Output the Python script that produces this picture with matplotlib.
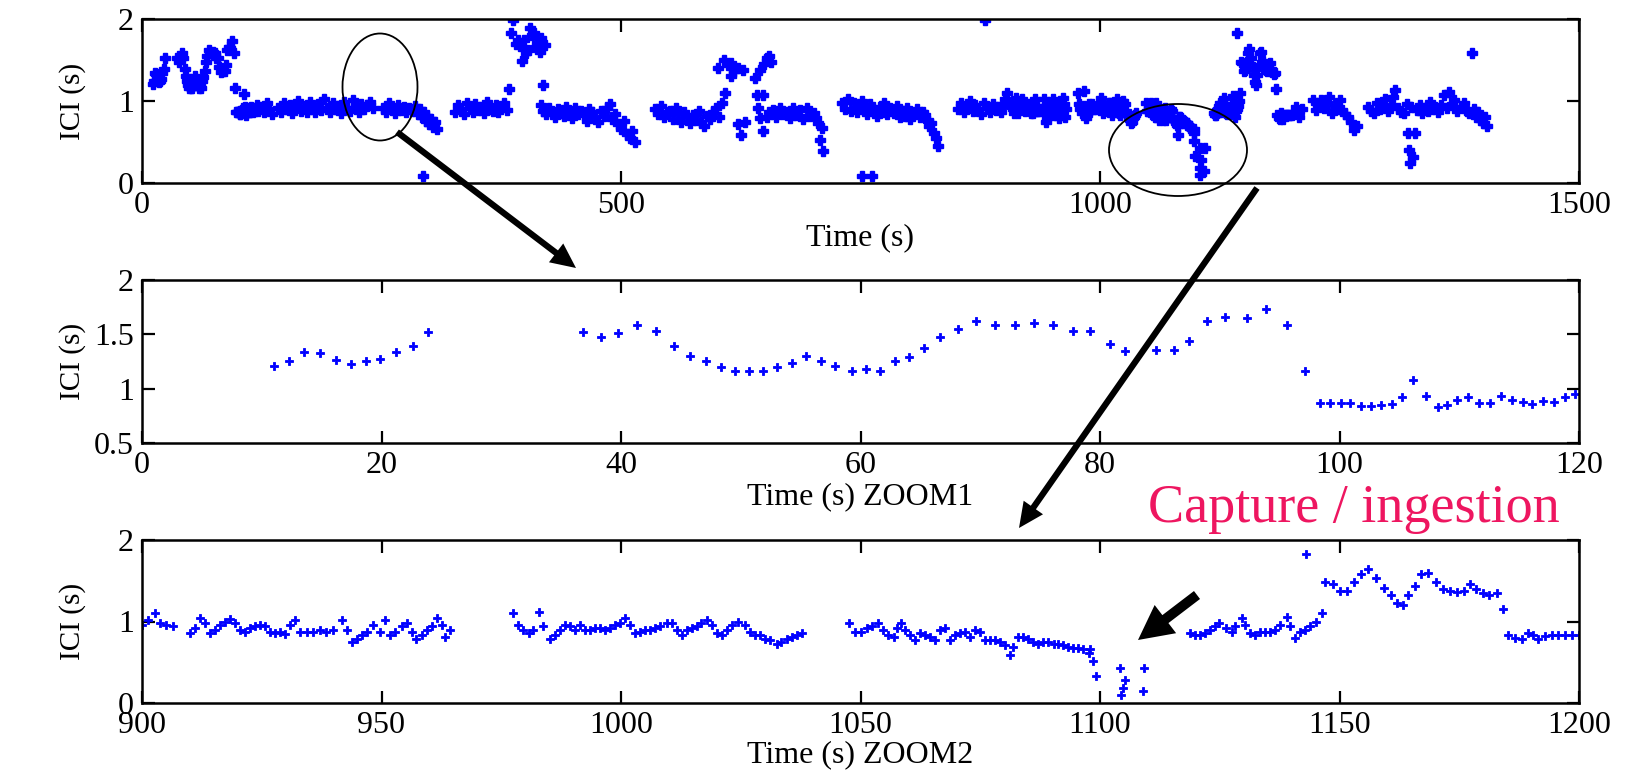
# -*- coding: utf-8 -*-
'''
Inter-click intervals (ICI) over time, with two zoomed windows.
'''

import numpy as np
import matplotlib
matplotlib.use('Agg')
import matplotlib.pyplot as plt
from matplotlib.patches import Ellipse, FancyArrowPatch

plt.rcParams['font.family'] = ['Liberation Serif', 'DejaVu Serif']

# ZOOM1 window (time s, ICI s)
zoom1_pts = np.array([
    [11.0, 1.21], [12.3, 1.25], [13.5, 1.34], [14.9, 1.33], [16.2, 1.26],
    [17.45, 1.23], [18.7, 1.25], [19.9, 1.27], [21.2, 1.34], [22.6, 1.39],
    [23.9, 1.52],
    [36.8, 1.52], [38.3, 1.48], [39.75, 1.51], [41.3, 1.59], [42.9, 1.53],
    [44.4, 1.39], [45.75, 1.30], [47.1, 1.25], [48.35, 1.20], [49.5, 1.16],
    [50.65, 1.16], [51.85, 1.16], [53.0, 1.20], [54.25, 1.24], [55.45, 1.30],
    [56.7, 1.25], [57.9, 1.21], [59.25, 1.16], [60.45, 1.18], [61.6, 1.16],
    [62.85, 1.25], [64.05, 1.29], [65.3, 1.37], [66.6, 1.48], [68.15, 1.55],
    [69.65, 1.62], [71.25, 1.59], [72.9, 1.59], [74.5, 1.60], [76.1, 1.59],
    [77.75, 1.53], [79.15, 1.53], [80.8, 1.41], [82.05, 1.35], [84.7, 1.36],
    [86.15, 1.36], [87.45, 1.44], [88.9, 1.62], [90.4, 1.66], [92.25, 1.65],
    [93.85, 1.73], [95.6, 1.59], [97.1, 1.16], [98.4, 0.87], [99.2, 0.87],
    [100.1, 0.87], [100.9, 0.87], [101.8, 0.84], [102.6, 0.84], [103.5, 0.85],
    [104.4, 0.86], [105.2, 0.92], [106.1, 1.08], [107.2, 0.93], [108.2, 0.83],
    [109.0, 0.85], [109.85, 0.90], [110.7, 0.92], [111.65, 0.87],
    [112.55, 0.87], [113.45, 0.93], [114.4, 0.90], [115.3, 0.88],
    [116.1, 0.86], [117.0, 0.89], [117.9, 0.88], [118.8, 0.92], [119.7, 0.95],
])

# ZOOM2 window (time s, ICI s)
zoom2_pts = np.array([
    [900.1, 0.96], [901.3, 1.02], [902.7, 1.10], [903.8, 0.98], [905.1, 0.96],
    [906.5, 0.945], [910.0, 0.855], [911.1, 0.92], [912.1, 1.04],
    [913.2, 0.98], [914.2, 0.855], [915.2, 0.90], [916.3, 0.96], [917.3, 1.00],
    [918.4, 1.03], [919.4, 0.98], [920.5, 0.90], [921.5, 0.875], [922.5, 0.92],
    [923.6, 0.94], [924.6, 0.96], [925.7, 0.94], [926.7, 0.875],
    [927.8, 0.855], [928.8, 0.875], [929.9, 0.85], [930.9, 0.96],
    [931.9, 1.02], [933.0, 0.875], [934.4, 0.875], [935.8, 0.875],
    [937.2, 0.90], [938.5, 0.875], [939.9, 0.90], [941.7, 1.02], [942.7, 0.90],
    [943.8, 0.75], [944.8, 0.79], [945.9, 0.835], [946.9, 0.875],
    [948.3, 0.96], [949.7, 0.875], [950.7, 1.02], [951.8, 0.835],
    [952.8, 0.875], [954.2, 0.94], [955.3, 0.98], [956.3, 0.875],
    [957.3, 0.79], [958.4, 0.835], [959.4, 0.90], [960.5, 0.94],
    [961.5, 1.04], [962.6, 0.96], [963.3, 0.81], [964.3, 0.90],
    [977.5, 1.10], [978.6, 0.96], [979.6, 0.90], [980.7, 0.855],
    [981.7, 0.90], [982.9, 1.12], [983.8, 0.94], [985.2, 0.79],
    [986.2, 0.835], [987.3, 0.90], [988.3, 0.96], [989.4, 0.94],
    [990.4, 0.90], [991.4, 0.96], [992.5, 0.90], [993.5, 0.90],
    [994.6, 0.92], [995.6, 0.92], [996.7, 0.90], [997.7, 0.92],
    [998.7, 0.96], [999.8, 0.98], [1000.8, 1.04], [1001.9, 0.96],
    [1002.9, 0.855], [1004.0, 0.875], [1005.0, 0.90], [1006.1, 0.90],
    [1007.1, 0.92], [1008.1, 0.94], [1009.5, 0.98], [1010.6, 0.98],
    [1011.6, 0.90], [1012.7, 0.835], [1013.7, 0.90], [1014.8, 0.92],
    [1015.8, 0.94], [1016.8, 0.98], [1017.9, 1.02], [1018.9, 0.96],
    [1020.0, 0.855], [1021.0, 0.835], [1022.1, 0.90], [1023.1, 0.96],
    [1024.5, 1.00], [1025.9, 0.96], [1026.9, 0.875], [1028.0, 0.835],
    [1029.0, 0.835], [1030.1, 0.79], [1031.1, 0.77], [1032.5, 0.73],
    [1033.5, 0.75], [1034.6, 0.79], [1035.6, 0.81], [1036.7, 0.835],
    [1037.7, 0.855],
    [1047.5, 0.98], [1048.9, 0.875], [1050.2, 0.875], [1051.3, 0.92],
    [1052.3, 0.94], [1053.7, 0.98], [1054.8, 0.90], [1055.8, 0.835],
    [1056.9, 0.81], [1057.6, 0.92], [1058.4, 0.98], [1059.3, 0.90],
    [1060.3, 0.835], [1061.4, 0.77], [1062.4, 0.855], [1063.5, 0.835],
    [1064.5, 0.81], [1065.6, 0.77], [1066.6, 0.90], [1067.6, 0.92],
    [1068.7, 0.77], [1069.7, 0.835], [1070.8, 0.855], [1071.8, 0.875],
    [1072.9, 0.81], [1073.9, 0.90], [1074.9, 0.875], [1076.0, 0.77],
    [1077.0, 0.77], [1078.1, 0.77], [1079.1, 0.75], [1080.2, 0.71],
    [1081.2, 0.59], [1081.9, 0.69], [1082.9, 0.81], [1084.0, 0.81],
    [1085.0, 0.79], [1086.1, 0.75], [1087.1, 0.73], [1088.2, 0.75],
    [1089.2, 0.75], [1090.3, 0.73], [1091.3, 0.73], [1092.3, 0.71],
    [1093.4, 0.69], [1094.4, 0.67], [1095.5, 0.67], [1096.5, 0.66],
    [1097.6, 0.61], [1097.9, 0.66], [1098.6, 0.51], [1099.2, 0.33],
    [1104.2, 0.43], [1105.2, 0.28], [1104.9, 0.18], [1104.3, 0.10],
    [1109.1, 0.43], [1108.9, 0.15],
    [1118.8, 0.855], [1119.8, 0.835], [1120.9, 0.835], [1121.9, 0.855],
    [1123.0, 0.90], [1124.0, 0.94], [1124.9, 0.98], [1126.4, 0.92],
    [1127.5, 0.87], [1128.2, 0.94], [1129.6, 1.04], [1130.3, 0.96],
    [1131.3, 0.855], [1132.4, 0.84], [1133.4, 0.87], [1134.4, 0.875],
    [1135.5, 0.875], [1136.5, 0.90], [1137.6, 0.96], [1139.0, 1.06],
    [1139.7, 0.94], [1140.7, 0.80], [1141.8, 0.875], [1142.8, 0.90],
    [1143.1, 1.83], [1143.8, 0.94], [1145.1, 1.00], [1146.3, 1.10],
    [1147.0, 1.48], [1148.7, 1.46], [1150.1, 1.37], [1151.5, 1.38],
    [1153.1, 1.48], [1154.5, 1.58], [1155.9, 1.64], [1157.6, 1.53],
    [1159.2, 1.415], [1160.7, 1.32], [1161.9, 1.23], [1163.2, 1.20],
    [1164.4, 1.32], [1165.8, 1.44], [1167.0, 1.58], [1168.5, 1.60],
    [1170.1, 1.49], [1171.7, 1.395], [1173.1, 1.375], [1174.5, 1.365],
    [1175.9, 1.375], [1177.2, 1.46], [1178.5, 1.395], [1179.9, 1.355],
    [1181.3, 1.325], [1182.8, 1.345], [1184.1, 1.15], [1185.2, 0.835],
    [1186.6, 0.795], [1188.0, 0.785], [1189.4, 0.855], [1190.5, 0.835],
    [1191.5, 0.785], [1192.9, 0.825], [1194.3, 0.835], [1195.7, 0.835],
    [1197.1, 0.835], [1198.5, 0.835], [1199.9, 0.835],
])

# remaining parts of the full record (time s, ICI s)
overview_pts = np.array([
    [121, 0.88], [124, 0.93], [127, 0.86], [130, 0.97], [133, 0.90],
    [136, 0.84], [142, 0.92], [145, 0.86], [148, 0.98], [151, 0.90],
    [154, 0.95], [157, 0.85], [160, 0.93], [163, 1.00], [166, 0.88],
    [169, 0.94], [172, 0.86], [175, 0.99], [178, 0.91], [181, 0.87],
    [184, 0.96], [187, 0.89], [190, 1.03], [193, 0.92], [196, 0.86],
    [199, 0.97], [202, 0.90], [205, 0.94], [208, 0.85], [211, 0.99],
    [214, 0.92], [217, 0.88], [220, 1.01], [223, 0.93], [226, 0.87],
    [229, 0.96], [232, 0.90], [235, 0.95], [238, 0.99], [241, 0.91],
    [252, 0.92], [255, 0.87], [258, 0.97], [261, 0.90], [264, 0.85],
    [267, 0.95], [270, 0.89], [273, 0.93], [276, 0.86], [279, 0.91],
    [282, 0.88], [285, 0.94], [288, 0.84], [290, 0.90], [292, 0.80],
    [293, 0.08], [294, 0.86], [296, 0.76], [298, 0.82], [300, 0.72],
    [302, 0.78], [304, 0.68], [306, 0.74], [308, 0.66],
    [327, 0.86], [330, 0.95], [333, 0.90], [336, 0.84], [339, 0.98],
    [342, 0.91], [345, 0.87], [348, 0.96], [351, 0.89], [354, 0.93],
    [357, 0.85], [360, 0.99], [363, 0.90], [366, 0.88], [369, 0.95],
    [372, 0.86], [375, 0.92], [378, 0.97], [381, 0.89], [383, 1.15],
    [385, 1.83], [387, 1.99], [390, 1.70], [392, 1.75], [395, 1.67],
    [397, 1.49], [399, 1.75], [401, 1.58], [403, 1.62], [405, 1.89],
    [407, 1.80], [409, 1.83], [411, 1.66], [412, 1.71], [415, 1.60],
    [417, 1.77], [419, 1.20], [421, 1.68],
    [416, 0.95], [419, 0.88], [422, 0.84], [425, 0.92], [428, 0.86],
    [431, 0.80], [434, 0.90], [437, 0.85], [440, 0.82], [443, 0.93],
    [446, 0.87], [449, 0.79], [452, 0.91], [455, 0.84], [458, 0.88],
    [461, 0.83], [464, 0.76], [467, 0.90], [470, 0.86], [473, 0.80],
    [476, 0.74], [479, 0.88], [482, 0.82], [485, 0.92], [488, 0.96],
    [491, 0.78], [494, 0.84], [497, 0.72], [500, 0.66], [503, 0.76],
    [506, 0.60], [509, 0.55], [512, 0.64], [515, 0.50],
    [536, 0.90], [539, 0.84], [542, 0.94], [545, 0.80], [548, 0.86],
    [551, 0.88], [554, 0.78], [557, 0.92], [560, 0.84], [563, 0.75],
    [566, 0.86], [569, 0.80], [572, 0.73], [575, 0.83], [578, 0.77],
    [581, 0.88], [584, 0.74], [587, 0.70], [590, 0.82], [593, 0.78],
    [596, 0.86], [599, 0.92], [602, 0.80], [605, 0.97], [609, 1.10],
    [601, 1.40], [608, 1.50], [612, 1.44], [615, 1.46], [615, 1.30],
    [618, 1.36], [622, 1.40], [627, 1.38], [622, 0.72], [625, 0.58],
    [629, 0.74], [640, 1.28], [645, 1.38], [649, 1.45], [652, 1.52],
    [654, 1.55], [657, 1.47],
    [642, 1.07], [643, 0.91], [645, 0.79], [648, 0.63], [648, 1.07],
    [652, 0.81], [655, 0.86], [659, 0.89], [662, 0.80], [666, 0.91],
    [669, 0.84], [673, 0.86], [676, 0.79], [680, 0.92], [683, 0.83],
    [687, 0.89], [690, 0.78], [694, 0.91], [697, 0.82], [701, 0.85],
    [704, 0.79], [706, 0.73], [708, 0.53], [710, 0.67], [711, 0.39],
    [752, 0.08], [762, 0.08],
    [731, 0.97], [734, 0.90], [737, 1.02], [740, 0.88], [743, 0.97],
    [746, 0.86], [749, 0.94], [752, 1.00], [754, 0.93], [757, 0.84],
    [760, 0.96], [764, 0.89], [767, 0.82], [770, 0.93], [773, 0.87],
    [775, 0.97], [778, 0.84], [781, 0.91], [785, 0.85], [788, 0.94],
    [791, 0.80], [794, 0.88], [796, 0.82], [799, 0.92], [802, 0.78],
    [806, 0.85], [809, 0.90], [812, 0.80], [815, 0.87], [817, 0.83],
    [820, 0.76], [822, 0.70], [824, 0.73], [827, 0.61], [829, 0.55],
    [831, 0.45],
    [852, 0.90], [855, 0.97], [858, 0.86], [861, 0.93], [864, 1.00],
    [867, 0.88], [870, 0.95], [873, 0.90], [876, 0.84], [879, 0.97],
    [880, 1.99], [882, 0.91], [885, 0.87], [888, 0.96], [891, 0.89],
    [894, 0.93], [897, 0.86],
    [1202, 0.85], [1205, 0.93], [1208, 0.80], [1211, 0.90], [1222, 1.01],
    [1225, 0.89], [1228, 0.95], [1231, 1.01], [1234, 0.91], [1237, 0.97],
    [1239, 1.05], [1242, 0.85], [1245, 0.95], [1248, 0.90], [1250, 1.01],
    [1253, 0.89], [1256, 0.84], [1259, 0.81], [1262, 0.75], [1265, 0.65],
    [1268, 0.70], [1280, 0.93], [1283, 0.88], [1286, 0.85], [1289, 0.97],
    [1292, 0.90], [1295, 0.93], [1298, 1.02], [1301, 0.88], [1304, 0.95],
    [1306, 1.05], [1308, 1.13], [1311, 0.92], [1314, 0.87], [1317, 0.85],
    [1320, 0.96], [1321, 0.61], [1323, 0.40], [1324, 0.24], [1325, 0.93],
    [1327, 0.32], [1329, 0.61], [1331, 0.89], [1334, 0.95], [1336, 0.85],
    [1339, 0.91], [1342, 0.88], [1344, 0.99], [1347, 0.90], [1350, 0.93],
    [1353, 0.86], [1356, 0.95], [1359, 1.07], [1362, 0.92], [1364, 1.11],
    [1367, 0.96], [1370, 1.01], [1373, 0.88], [1377, 0.93], [1380, 0.97],
    [1383, 0.88], [1385, 0.85], [1388, 1.58], [1390, 0.90], [1392, 0.81],
    [1395, 0.86], [1398, 0.77], [1400, 0.73], [1402, 0.80], [1404, 0.69],
])

W, H = 1639, 771
BLUE = '#0000ff'
FS = 23


def fig_xy(x, y):
    # pixel position (from top-left) to figure fraction
    return (x / W, 1 - y / H)


def style_ax(ax, xlim, ylim, xticks, yticks, xlab, lab_off):
    ax.set_xlim(*xlim)
    ax.set_ylim(*ylim)
    ax.set_xticks(xticks)
    ax.set_yticks(yticks)
    ax.set_yticklabels([f'{v:g}' for v in yticks])
    ax.tick_params(direction='in', length=9, width=1.6, top=True,
                   right=True, labelsize=FS, pad=6)
    for sp in ax.spines.values():
        sp.set_linewidth(1.8)
    ax.set_xlabel(xlab, fontsize=FS, va='center')
    ax.xaxis.set_label_coords(0.5, -lab_off)
    ax.set_ylabel('ICI (s)', fontsize=21, va='center')
    ax.yaxis.set_label_coords(-0.048, 0.5)


def main():
    fig = plt.figure(figsize=(W / 100, H / 100), dpi=100)

    left, width = 142 / W, 1437 / W
    ax_all = fig.add_axes([left, 1 - 183 / H, width, 164 / H])
    ax_z1 = fig.add_axes([left, 1 - 443 / H, width, 163 / H])
    ax_z2 = fig.add_axes([left, 1 - 703 / H, width, 163 / H])

    full = np.vstack([zoom1_pts, overview_pts, zoom2_pts])
    ax_all.plot(full[:, 0], full[:, 1], ls='none', marker='P', ms=6.5,
                color=BLUE, mec=BLUE, mew=1.0)
    style_ax(ax_all, (0, 1500), (0, 2), [0, 500, 1000, 1500], [0, 1, 2],
             'Time (s)', 0.335)

    ax_z1.plot(zoom1_pts[:, 0], zoom1_pts[:, 1], ls='none', marker='P',
               ms=5.5, color=BLUE, mec=BLUE, mew=0.6)
    style_ax(ax_z1, (0, 120), (0.5, 2), np.arange(0, 121, 20),
             [0.5, 1, 1.5, 2], 'Time (s) ZOOM1', 0.331)

    ax_z2.plot(zoom2_pts[:, 0], zoom2_pts[:, 1], ls='none', marker='P',
               ms=5.5, color=BLUE, mec=BLUE, mew=0.6)
    style_ax(ax_z2, (900, 1200), (0, 2), np.arange(900, 1201, 50),
             [0, 1, 2], 'Time (s) ZOOM2', 0.319)

    # annotations: ellipses and arrows
    for cx, cy, ew, eh in [(380, 87, 75, 107), (1178, 150, 138, 92)]:
        fig.add_artist(Ellipse(fig_xy(cx, cy), ew / W, eh / H,
                               transform=fig.transFigure, fill=False,
                               ec='black', lw=1.3, zorder=5))

    arrows = [
        ((397, 132), (576, 268), 4.5, 17, 18),
        ((1257, 188), (1019, 528), 4.5, 17, 18),
        ((1197, 595), (1138, 640), 7.2, 25.5, 24.8),
    ]
    for (x0, y0), (x1, y1), tw, hw, hl in arrows:
        fig.add_artist(FancyArrowPatch(
            fig_xy(x0, y0), fig_xy(x1, y1), transform=fig.transFigure,
            arrowstyle=f'simple,tail_width={tw},head_width={hw},'
                       f'head_length={hl}',
            mutation_scale=1, color='black', lw=0, shrinkA=0, shrinkB=0,
            zorder=6))

    fig.text(1354 / W, 1 - 509 / H, 'Capture / ingestion', color='#ee1660',
             fontsize=39, ha='center', va='center')

    fig.savefig('out.png', dpi=100)
    plt.close(fig)


if __name__ == '__main__':
    main()
